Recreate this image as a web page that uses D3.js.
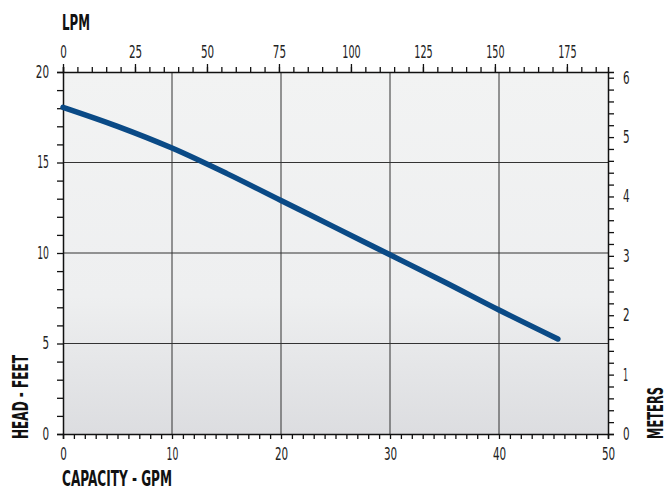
<!DOCTYPE html>
<html lang="en">
<head>
<meta charset="UTF-8">
<title>Pump curve</title>
<script src="https://cdn.jsdelivr.net/npm/d3@7/dist/d3.min.js"></script>
<style>
  body { margin: 0; background: #fff; }
  text { font-family: "Liberation Sans Narrow", "DejaVu Sans Condensed", sans-serif; }
</style>
</head>
<body>
<svg width="670" height="497"></svg>
<script>
// capacity (GPM) vs head (feet)
const gpm  = [0, 5, 10, 15, 20, 25, 30, 35, 40, 45.4];
const feet = [18.05, 17.0, 15.8, 14.4, 12.9, 11.4, 9.9, 8.4, 6.85, 5.25];

const gpmTicks   = [0, 10, 20, 30, 40, 50];
const feetTicks  = [0, 5, 10, 15, 20];
const lpmTicks   = [0, 25, 50, 75, 100, 125, 150, 175];
const meterTicks = [0, 1, 2, 3, 4, 5, 6];

const LPM_PER_GPM = 3.78541;
const M_PER_FT = 0.3048;

const svg = d3.select("svg");
const pLeft = 63, pRight = 608, pTop = 72, pBottom = 434;

const x = d3.scaleLinear().domain([0, 50]).range([pLeft, pRight]);
const y = d3.scaleLinear().domain([0, 20]).range([pBottom, pTop]);
const xL = d3.scaleLinear().domain([0, 50 * LPM_PER_GPM]).range([pLeft, pRight]);
const yM = d3.scaleLinear().domain([0, 20 * M_PER_FT]).range([pBottom, pTop]);

// background gradient
const grad = svg.append("defs").append("linearGradient")
  .attr("id", "bg").attr("x1", 0).attr("y1", 0).attr("x2", 0).attr("y2", 1);
grad.append("stop").attr("offset", "0%").attr("stop-color", "#f2f3f3");
grad.append("stop").attr("offset", "62%").attr("stop-color", "#eeeff0");
grad.append("stop").attr("offset", "100%").attr("stop-color", "#dcdde0");

svg.append("rect")
  .attr("x", pLeft).attr("y", pTop)
  .attr("width", pRight - pLeft).attr("height", pBottom - pTop)
  .attr("fill", "url(#bg)");

// grid
svg.append("g").selectAll("line").data(gpmTicks.slice(1, -1)).join("line")
  .attr("x1", d => x(d)).attr("x2", d => x(d))
  .attr("y1", pTop).attr("y2", pBottom)
  .attr("stroke", "#333").attr("stroke-width", 1);
svg.append("g").selectAll("line").data(feetTicks.slice(1, -1)).join("line")
  .attr("y1", d => y(d)).attr("y2", d => y(d))
  .attr("x1", pLeft).attr("x2", pRight)
  .attr("stroke", "#333").attr("stroke-width", 1);

// condensed look: squeeze digits to ~6.3px each
function styleAxis(g, size) {
  g.select(".domain").attr("stroke", "#111").attr("stroke-width", 1.5);
  g.selectAll(".tick line").attr("stroke", "#111").attr("stroke-width", 1.3);
  g.selectAll("text").attr("font-size", size).attr("fill", "#222").attr("font-family", null)
    .each(function() {
      const s = this.textContent;
      if (s.length) {
        const w = s.split("").reduce((a, c) => a + (c === "1" ? 5.2 : 6.6), 0);
        d3.select(this).attr("textLength", w).attr("lengthAdjust", "spacingAndGlyphs");
      }
    });
}

// bottom axis (GPM)
svg.append("g").attr("transform", `translate(0,${pBottom})`)
  .call(d3.axisBottom(x).tickValues(d3.range(0, 51, 1)).tickSizeOuter(0).tickSize(5).tickPadding(8)
    .tickFormat(d => gpmTicks.includes(d) ? d : ""))
  .call(g => styleAxis(g, 18));

// left axis (feet)
svg.append("g").attr("transform", `translate(${pLeft},0)`)
  .call(d3.axisLeft(y).tickValues(d3.range(0, 21, 1)).tickSizeOuter(0).tickSize(6).tickPadding(8)
    .tickFormat(d => feetTicks.includes(d) ? d : ""))
  .call(g => styleAxis(g, 17));

// top axis (LPM) minor + major
svg.append("g").attr("transform", `translate(0,${pTop})`)
  .call(d3.axisTop(xL).tickValues(d3.range(0, 190, 5)).tickSizeOuter(0).tickSize(5).tickFormat(""))
  .call(g => styleAxis(g, 17));
svg.append("g").attr("transform", `translate(0,${pTop})`)
  .call(d3.axisTop(xL).tickValues(lpmTicks).tickSizeOuter(0).tickSize(8).tickPadding(6))
  .call(g => g.select(".domain").remove())
  .call(g => styleAxis(g, 17));

// right axis (meters)
svg.append("g").attr("transform", `translate(${pRight},0)`)
  .call(d3.axisRight(yM).tickValues(d3.range(0, 31, 1).map(d => d * 0.2))
    .tickSizeOuter(0).tickSize(6).tickPadding(9)
    .tickFormat(d => meterTicks.some(m => Math.abs(m - d) < 1e-6) ? Math.round(d) : ""))
  .call(g => styleAxis(g, 17));

// curve
svg.append("path")
  .datum(gpm.map((g, i) => [g, feet[i]]))
  .attr("d", d3.line().x(d => x(d[0])).y(d => y(d[1])).curve(d3.curveMonotoneX))
  .attr("fill", "none")
  .attr("stroke", "#0a4a86")
  .attr("stroke-width", 5.5)
  .attr("stroke-linecap", "round");

// titles
const title = (t, len) => svg.append("text").text(t)
  .attr("font-size", 22).attr("font-weight", "bold").attr("fill", "#111")
  .attr("textLength", len).attr("lengthAdjust", "spacingAndGlyphs");

title("LPM", 28).attr("x", 62).attr("y", 30);
title("CAPACITY - GPM", 110).attr("x", 62).attr("y", 486);
title("HEAD - FEET", 84).attr("transform", "translate(28,439) rotate(-90)");
title("METERS", 52).attr("transform", "translate(663,439) rotate(-90)");
</script>
</body>
</html>
